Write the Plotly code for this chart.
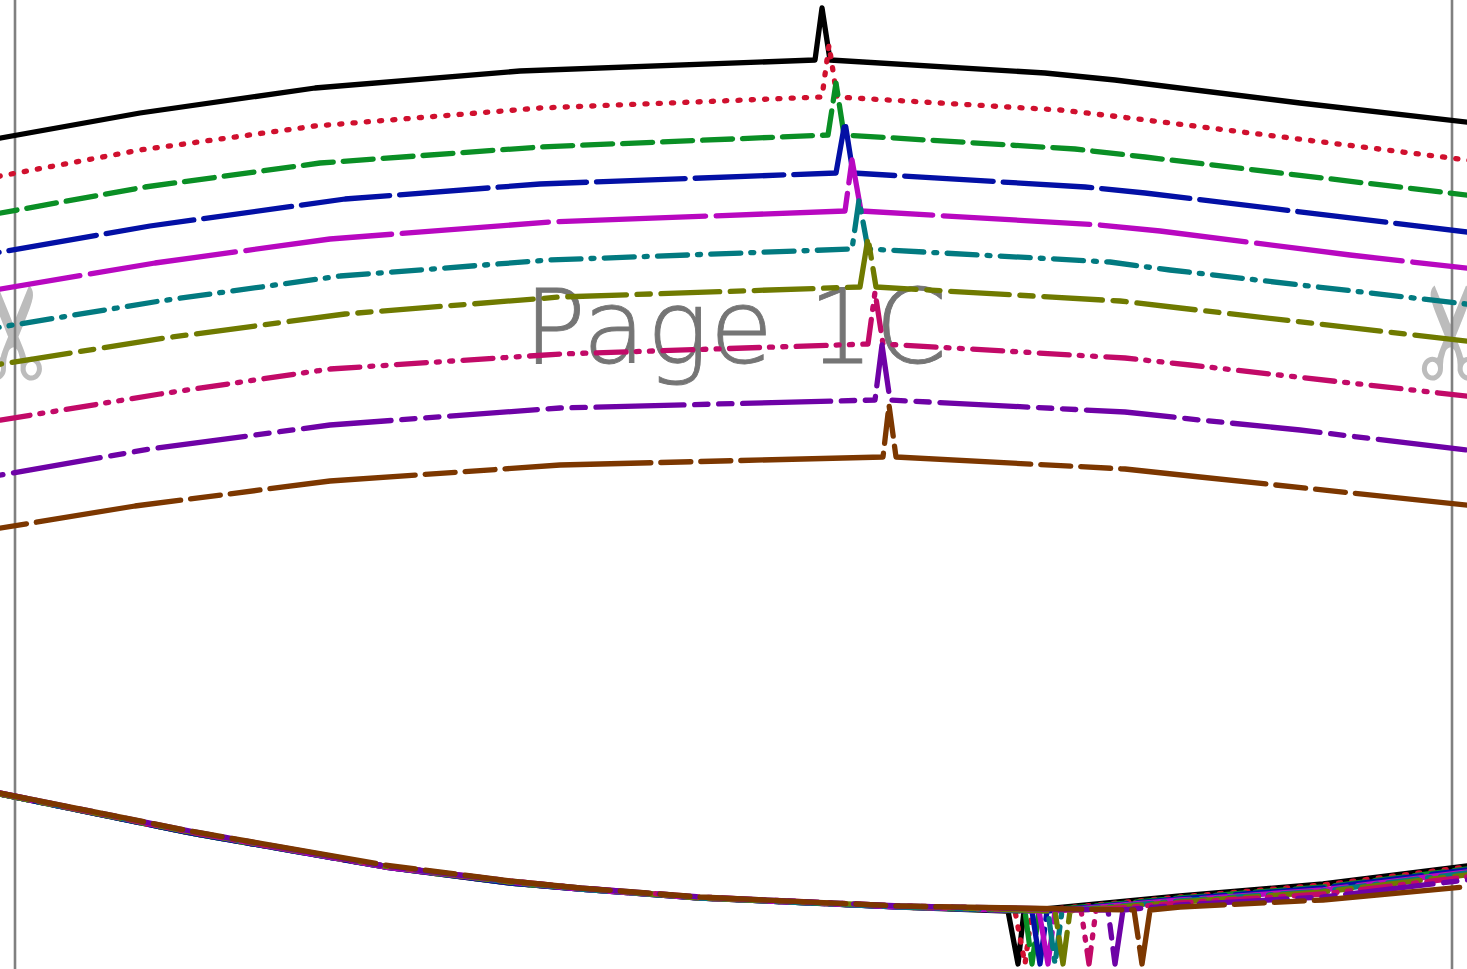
import json
import math
import plotly.graph_objects as go

NAMES = ["black", "red", "green", "blue", "magenta", "teal", "olive", "crimson", "purple", "brown"]
COLORS = ["#000000", "#d0102e", "#0a8f25", "#0310a5", "#b808c0", "#027a80", "#6f7a00", "#c20a68", "#6e02a6", "#7c3700"]
DASHES = ["solid", "2.2px,11.1px", "30px,10px", "88.7px,10px", "146.7px,10.6px",
          "30px,10px,3px,10.3px", "58.7px,10.6px,13.3px,10.7px",
          "30px,10px,3px,10.3px,3px,10.4px", "88px,10.7px,13.3px,10.7px,13.3px,10.7px",
          "146px,10px,30px,10px,30px,10px"]
TOP_PHASE_X = [0, 406, 423, 498, 559, 551, 661, 463, 596, 505]
BOTTOM_PHASE_X = [0, 1018, 1025.5, 1032, 978, 1049, 1059, 1087, 1113, 232]

TOP_X = [
    [-5, 140, 315, 520, 815, 822, 830, 1045, 1115, 1300, 1475],
    [-5, 140, 315, 540, 822, 829, 837, 1060, 1130, 1310, 1475],
    [-5, 145, 320, 540, 828, 836, 844, 1075, 1145, 1325, 1475],
    [-5, 150, 345, 540, 836, 845, 853, 1085, 1145, 1340, 1475],
    [-5, 155, 330, 550, 845, 852, 861, 1100, 1160, 1350, 1475],
    [-5, 160, 340, 550, 852, 859, 868, 1110, 1170, 1370, 1475],
    [-5, 165, 345, 560, 860, 868, 876, 1120, 1180, 1380, 1475],
    [-5, 160, 330, 560, 868, 875, 883, 1125, 1190, 1400, 1475],
    [-5, 150, 330, 560, 875, 882, 890, 1125, 1200, 1300, 1475],
    [-5, 135, 330, 560, 883, 889, 896, 1125, 1200, 1300, 1475],
]
TOP_Y = [
    [139, 113, 88, 71, 60, 8, 60, 73, 80, 103, 123],
    [177, 150, 126, 108, 97, 45, 97, 110, 118, 141, 161],
    [214, 187, 163, 147, 135, 83, 135, 149, 157, 179, 196],
    [253, 226, 199, 184, 173, 122, 173, 187, 193, 217, 233],
    [290, 263, 239, 222, 211, 160, 211, 225, 231, 255, 269],
    [328, 301, 276, 260, 249, 200, 249, 262, 270, 293, 305],
    [365, 338, 314, 297, 287, 238, 287, 301, 308, 331, 342],
    [421, 394, 369, 354, 344, 292, 344, 358, 365, 389, 397],
    [476, 449, 425, 408, 400, 345, 400, 412, 420, 430, 451],
    [529, 506, 481, 465, 457, 405, 457, 469, 477, 488, 506],
]

BOTTOM_LEFT_X = [-5, 150, 190, 385, 510, 580, 700, 900]
BOTTOM_LEFT_Y = [
    [793, 825, 833, 867, 883, 889, 898, 907],
    [793, 825, 833, 867, 883, 889, 898, 907],
    [793, 825, 833, 867, 883, 889, 898, 907],
    [793, 825, 833, 867, 883, 889, 898, 907],
    [793, 825, 832, 867, 882, 889, 898, 907],
    [793, 824, 832, 866, 882, 889, 898, 907],
    [793, 824, 832, 866, 882, 888, 898, 906],
    [792, 824, 832, 866, 881, 888, 897, 906],
    [792, 823, 831, 866, 881, 888, 897, 906],
    [792, 823, 831, 865, 881, 888, 897, 906],
]
NOTCH_X = [
    [1008, 1018, 1024], [1015, 1025, 1032], [1025, 1032, 1039], [1032, 1040, 1047], [1039, 1048, 1055],
    [1048, 1055, 1062], [1055, 1063, 1070], [1081, 1089, 1096], [1108, 1115, 1123], [1134, 1142, 1150],
]
NOTCH_Y = [[911, 964, 911], [911, 964, 911], [911, 964, 911], [911, 964, 911], [911, 964, 911],
           [911, 964, 911], [911, 964, 911], [910, 964, 910], [910, 964, 910], [910, 964, 910]]
BOTTOM_RIGHT_X = [1180, 1323, 1475]
BOTTOM_RIGHT_Y = [
    [896, 884, 865], [897, 885, 866], [898, 887, 868], [899, 888, 869], [900, 890, 871],
    [901, 891, 872], [902, 892, 874], [903, 894, 876], [905, 897, 879], [907, 900, 886],
]

GUIDE_X = [15, 1452]
GUIDE_Y = [0, 969]
PAGE_LABEL = "Page 1C"
SCISSORS = "\u2702"


def arc_to_x(xs, ys, target):
    s = 0.0
    for k in range(1, len(xs)):
        seg = math.hypot(xs[k] - xs[k - 1], ys[k] - ys[k - 1])
        if xs[k] >= target:
            return s + seg * (target - xs[k - 1]) / (xs[k] - xs[k - 1])
        s += seg
    return s


fig = go.Figure()
for x in GUIDE_X:
    fig.add_trace(go.Scatter(x=[x], y=[335], mode="text", text=[SCISSORS], textposition="middle center",
                             textfont=dict(size=128, color="#bcbcbc", family="DejaVu Sans"),
                             showlegend=False, hoverinfo="skip"))
for x in GUIDE_X:
    fig.add_trace(go.Scatter(x=[x, x], y=GUIDE_Y, mode="lines", line=dict(color="#808080", width=2.6),
                             showlegend=False, hoverinfo="skip"))
fig.add_trace(go.Scatter(x=[736], y=[337], mode="text", text=[PAGE_LABEL], textposition="middle center",
                         textfont=dict(size=103, color="#757575", family="DejaVu Sans", weight=200),
                         showlegend=False, hoverinfo="skip"))

offsets = []
for i, name in enumerate(NAMES):
    fig.add_trace(go.Scatter(x=TOP_X[i], y=TOP_Y[i], mode="lines", name=name,
                             line=dict(color=COLORS[i], width=5.3, dash=DASHES[i]),
                             showlegend=False, hoverinfo="skip"))
    offsets.append(-arc_to_x(TOP_X[i], TOP_Y[i], TOP_PHASE_X[i]) if i else 0)
for i, name in enumerate(NAMES):
    xs = BOTTOM_LEFT_X + NOTCH_X[i] + BOTTOM_RIGHT_X
    ys = BOTTOM_LEFT_Y[i] + NOTCH_Y[i] + BOTTOM_RIGHT_Y[i]
    fig.add_trace(go.Scatter(x=xs, y=ys, mode="lines", name=name,
                             line=dict(color=COLORS[i], width=5.3, dash=DASHES[i]),
                             showlegend=False, hoverinfo="skip"))
    offsets.append(-arc_to_x(xs, ys, BOTTOM_PHASE_X[i]) if i else 0)

fig.update_layout(
    width=1467, height=969, margin=dict(l=0, r=0, t=0, b=0),
    paper_bgcolor="white", plot_bgcolor="white",
    xaxis=dict(range=[0, 1467], visible=False, fixedrange=True),
    yaxis=dict(range=[969, 0], visible=False, fixedrange=True),
)

POST = """
var s=document.createElement('style');
s.textContent="body{margin:0}";
document.head.appendChild(s);
var offs=%s;
var lines=document.querySelectorAll('.js-line');
lines.forEach(function(p,i){
  p.style.strokeLinecap='round';
  p.style.strokeLinejoin='round';
  var k=i-2;
  if(k>=0&&k<offs.length){p.style.strokeDashoffset=offs[k]+'px';}
});
document.querySelectorAll('.textpoint text').forEach(function(t){
  if(t.textContent==='\\u2702'){
    var x=t.getAttribute('x'), y=t.getAttribute('y');
    t.setAttribute('transform','translate(5 5) rotate(-90 '+x+' '+(y-40)+')');
  } else {
    t.style.stroke='#757575';
    t.style.strokeWidth='0.9px';
    t.style.letterSpacing='1.2px';
  }
});
""" % json.dumps(offsets)
fig.write_html("out.html", post_script=POST, config={"displayModeBar": False})
